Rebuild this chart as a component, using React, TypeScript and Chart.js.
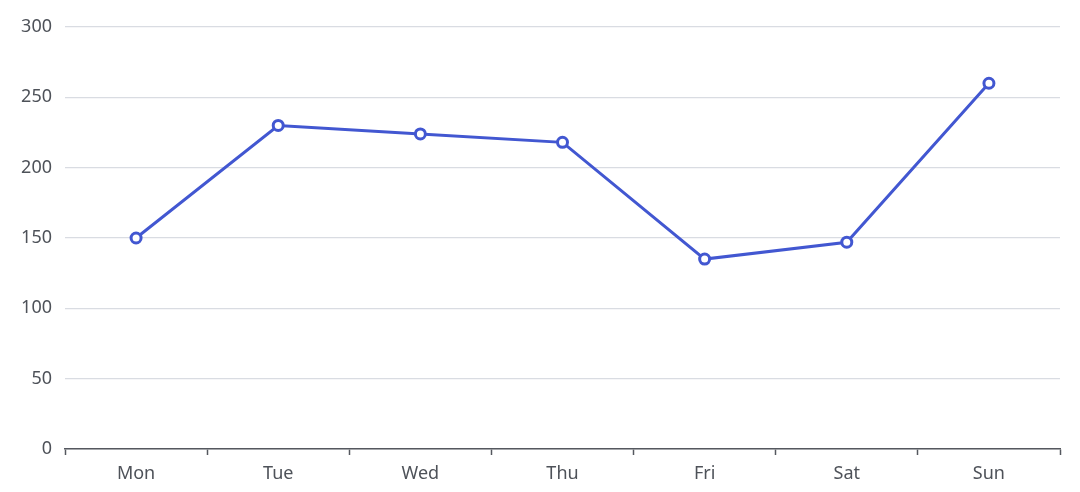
import { Chart, registerables } from "chart.js";
import { useEffect, useRef } from "react";

Chart.register(...registerables);

const days = ["Mon", "Tue", "Wed", "Thu", "Fri", "Sat", "Sun"];
const values = [150, 230, 224, 218, 135, 147, 260];

const LINE = "#4257d1";
const TEXT = "#4e5259";

export default function App() {
    const canvasRef = useRef<HTMLCanvasElement | null>(null);

    useEffect(() => {
        document.body.style.margin = "0";
        if (!canvasRef.current) return;

        const chart = new Chart(canvasRef.current, {
            type: "line",
            data: {
                labels: days,
                datasets: [{
                    data: values,
                    borderColor: LINE,
                    borderWidth: 3,
                    backgroundColor: "#ffffff",
                    pointBackgroundColor: "#ffffff",
                    pointBorderColor: LINE,
                    pointBorderWidth: 3,
                    pointRadius: 5,
                    tension: 0,
                }],
            },
            options: {
                animation: false,
                responsive: true,
                maintainAspectRatio: false,
                layout: { padding: { top: 27, right: 20, left: 0, bottom: 0 } },
                plugins: { legend: { display: false }, tooltip: { enabled: false } },
                scales: {
                    x: {
                        offset: true,
                        grid: {
                            offset: true,
                            drawOnChartArea: false,
                            drawTicks: true,
                            tickLength: 6,
                            tickColor: "#55585f",
                            tickWidth: 1.5,
                        },
                        border: { color: "#55585f", width: 1.5 },
                        ticks: {
                            color: TEXT,
                            padding: 8,
                            font: { family: "'Noto Sans', sans-serif", size: 18 },
                        },
                        afterFit: (s: any) => { s.height = 43; },
                    },
                    y: {
                        min: 0,
                        max: 300,
                        grid: { color: "#d9dce2", lineWidth: 1.2, drawTicks: false },
                        border: { display: false },
                        ticks: {
                            stepSize: 50,
                            color: TEXT,
                            padding: 13,
                            font: { family: "'Noto Sans', sans-serif", size: 18 },
                        },
                        afterFit: (s: any) => { s.width = 65; },
                    },
                },
            } as any,
        });

        return () => chart.destroy();
    }, []);

    return (
        <div style={{ width: 1080, height: 492, position: "relative" }}>
            <canvas ref={canvasRef} />
        </div>
    );
}
